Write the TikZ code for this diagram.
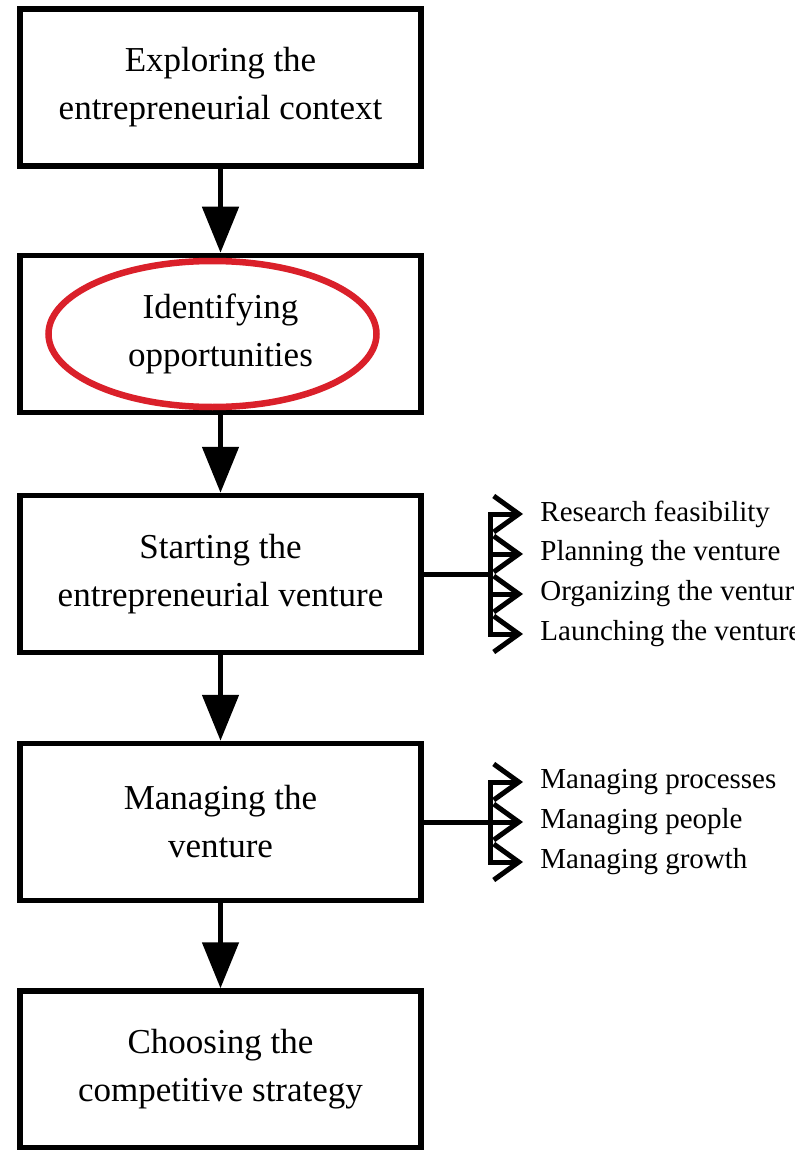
\documentclass[tikz,border=0pt]{standalone}
\usepackage{fontspec}
\setmainfont{Liberation Serif}
\usetikzlibrary{arrows.meta,shapes}
\definecolor{markred}{RGB}{218,32,42}

\begin{document}
\begin{tikzpicture}[x=0.5pt,y=-0.5pt]
\tikzstyle{stage}=[draw=black, line width=2.75pt, minimum width=200.5pt, minimum height=78.5pt, inner sep=0pt, align=center, font=\fontsize{17.5}{24}\selectfont]
\tikzstyle{flow}=[line width=2.5pt, -{Triangle[width=18pt,length=23pt]}]
\tikzstyle{task}=[anchor=west, inner xsep=8.5pt, inner ysep=0pt, font=\fontsize{14.5}{17}\selectfont]
\tikzstyle{branch}=[line width=2.5pt, -{Straight Barb[length=12.5pt,width=18pt,sharp]}]
\useasboundingbox (0,0) rectangle (794,1150);
\node [stage] (explore) at (220.5,87.5) {Exploring the\\entrepreneurial context};
\node [stage] (identify) at (220.5,334) {Identifying\\opportunities};
\node [stage] (start) at (220.5,574) {Starting the\\entrepreneurial venture};
\node [stage] (manage) at (220.5,822) {Managing the\\venture};
\node [stage] (choose) at (220.5,1069.5) {Choosing the\\competitive strategy};
\draw [markred, line width=3.25pt] ([xshift=-4pt]identify.center) ellipse [x radius=164, y radius=73];
\draw [flow] (explore) -- (identify);
\draw [flow] (identify) -- (start);
\draw [flow] (start) -- (manage);
\draw [flow] (manage) -- (choose);
% steps of starting the venture
\coordinate (j1) at (490,574);
\node [task] (research) at (523,514) {Research feasibility};
\node [task] (plan) at (523,554) {Planning the venture};
\node [task] (organize) at (523,594) {Organizing the venture};
\node [task] (launch) at (523,634) {Launching the venture};
\draw [line width=2.5pt] (start.east) -- (j1);
\foreach \t in {research,plan,organize,launch}
  \draw [branch] (j1) |- (\t.west);
% steps of managing the venture
\coordinate (j2) at (490,822);
\node [task] (processes) at (523,782) {Managing processes};
\node [task] (people) at (523,822) {Managing people};
\node [task] (growth) at (523,862) {Managing growth};
\draw [line width=2.5pt] (manage.east) -- (j2);
\foreach \t in {processes,people,growth}
  \draw [branch] (j2) |- (\t.west);
\end{tikzpicture}
\end{document}
